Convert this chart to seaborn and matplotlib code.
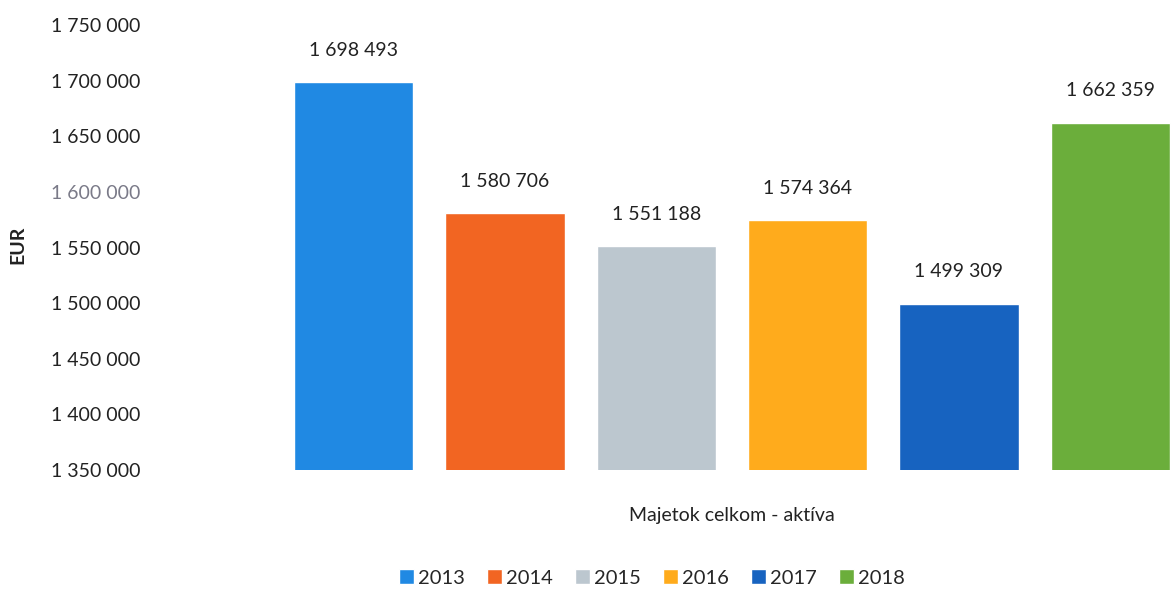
import matplotlib
matplotlib.use("Agg")
import matplotlib.pyplot as plt
import seaborn as sns
import pandas as pd
from matplotlib.ticker import FuncFormatter

years = ["2013", "2014", "2015", "2016", "2017", "2018"]
values = [1698493, 1580706, 1551188, 1574364, 1499309, 1662359]
category = "Majetok celkom - aktíva"
colors = ["#2089E3", "#F26522", "#BCC7CF", "#FFAB1C", "#1763C0", "#6BAE3B"]

df = pd.DataFrame({"kat": [category] * len(years), "rok": years, "hodnota": values})

sns.set_style("white")
plt.rcParams["font.family"] = ["Lato", "DejaVu Sans"]

fig = plt.figure(figsize=(11.73, 5.94), dpi=100)
ax = fig.add_axes([278 / 1173, 1 - 470 / 594, (1173 - 278) / 1173, (470 - 25) / 594])

sns.barplot(data=df, x="kat", y="hodnota", hue="rok", palette=colors,
            width=1.0, gap=0.21, saturation=1, ax=ax, legend=True)

ax.set_ylim(1350000, 1750000)
ax.set_xlim(-0.5, 0.5 - 13 / 908)
ax.set_yticks(range(1350000, 1750001, 50000))

def fmt(v, pos=None):
    return f"{int(v):,}".replace(",", " ")

ax.yaxis.set_major_formatter(FuncFormatter(fmt))
ax.tick_params(axis="y", labelsize=14, colors="#222222", length=0, pad=99)
for lbl in ax.get_yticklabels():
    if lbl.get_text() == "1 600 000":
        lbl.set_color("#7a7a88")
ax.tick_params(axis="x", labelsize=14, colors="#222222", length=0, pad=27)

for cont in ax.containers:
    ax.bar_label(cont, labels=[fmt(b.get_height()) for b in cont],
                 padding=17, fontsize=14, color="#222222")

sns.despine(ax=ax, left=True, bottom=True, top=True, right=True)
ax.set_xlabel("")
ax.set_ylabel("")
fig.text(18 / 1173, 1 - 245 / 594, "EUR", rotation=90, ha="center", va="center",
         fontsize=14, fontweight="bold", color="#222222")

handles, labels = ax.get_legend_handles_labels()
ax.legend_.remove()
fig.legend(handles, labels, loc="center", bbox_to_anchor=(652 / 1173, 1 - 578 / 594),
           ncol=6, frameon=False, fontsize=14.5, handlelength=0.75, handleheight=0.75,
           handletextpad=0.2, columnspacing=1.1)

fig.savefig("out.png", dpi=100)
